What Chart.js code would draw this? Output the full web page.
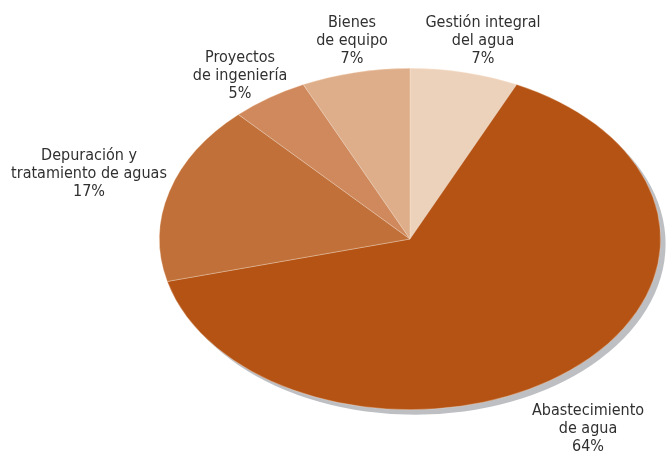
<!DOCTYPE html>
<html lang="es">
<head>
<meta charset="utf-8">
<title>Distribución por actividad</title>
<script src="https://cdn.jsdelivr.net/npm/chart.js@4.4.1/dist/chart.umd.min.js"></script>
<style>
  html, body { margin: 0; padding: 0; background: #fff; }
  #grafico { display: block; }
</style>
</head>
<body>
<canvas id="grafico" width="667" height="453"></canvas>
<script>
// Datos: sectores en orden horario desde las 12
const categorias = ['Gestión integral del agua', 'Abastecimiento de agua', 'Depuración y tratamiento de aguas', 'Proyectos de ingeniería', 'Bienes de equipo'];
const porcentajes = [7, 64, 17, 5, 7];
const lineasEtiqueta = [
    ['Gestión integral', 'del agua'],
    ['Abastecimiento', 'de agua'],
    ['Depuración y', 'tratamiento de aguas'],
    ['Proyectos', 'de ingeniería'],
    ['Bienes', 'de equipo']
];

// Estilo
const colores = ['#EDD2BB', '#B45314', '#C07038', '#D0895C', '#DEAE8A'];
const colorSombra = '#BEBFC3';
const colorTexto = '#303030';
const fuente = '16px "DejaVu Sans Condensed", "Liberation Sans Narrow", "Open Sans", sans-serif';
const altoLinea = 18;
const escalaX = 1.468;   // achatamiento de la elipse (ancho / alto)

// Posición de cada etiqueta: centro x, línea base de la primera línea
const posEtiquetas = [
    [483, 27],
    [588, 415],
    [89, 160],
    [240, 62],
    [352, 27]
];

// Convierte el círculo del pie en elipse y le pone la sombra gris
const pluginElipse = {
    id: 'elipse',
    beforeDatasetsDraw(chart) {
        const arco = chart.getDatasetMeta(0).data[0];
        const ctx = chart.ctx;
        const cx = arco.x, cy = arco.y, r = arco.outerRadius;
        ctx.save();
        ctx.fillStyle = colorSombra;
        ctx.filter = 'blur(0.6px)';
        ctx.beginPath();
        ctx.ellipse(cx + 5, cy + 5, r * escalaX, r, 0, 0, Math.PI * 2);
        ctx.fill();
        ctx.restore();

        ctx.save();
        ctx.translate(cx, cy);
        ctx.scale(escalaX, 1);
        ctx.translate(-cx, -cy);
    },
    afterDatasetsDraw(chart) {
        chart.ctx.restore();
    }
};

// Etiquetas de texto con el porcentaje
const pluginEtiquetas = {
    id: 'etiquetas',
    afterDraw(chart) {
        const ctx = chart.ctx;
        ctx.save();
        ctx.font = fuente;
        ctx.fillStyle = colorTexto;
        ctx.textAlign = 'center';
        ctx.textBaseline = 'alphabetic';
        lineasEtiqueta.forEach((lineas, i) => {
            const [x, y] = posEtiquetas[i];
            const texto = lineas.concat([porcentajes[i] + '%']);
            texto.forEach((l, j) => {
                ctx.fillText(l, x, y + j * altoLinea);
            });
        });
        ctx.restore();
    }
};

const ctx = document.getElementById('grafico').getContext('2d');
const grafico = new Chart(ctx, {
    type: 'pie',
    data: {
        labels: categorias,
        datasets: [{
            data: porcentajes,
            backgroundColor: colores,
            borderColor: 'rgba(255, 236, 220, 0.45)',
            borderWidth: 0.6,
            clip: false
        }]
    },
    options: {
        responsive: false,
        animation: false,
        layout: {
            padding: { left: 239, right: 86, top: 68, bottom: 43 }
        },
        plugins: {
            legend: { display: false },
            tooltip: { enabled: false }
        }
    },
    plugins: [pluginElipse, pluginEtiquetas]
});
</script>
</body>
</html>
